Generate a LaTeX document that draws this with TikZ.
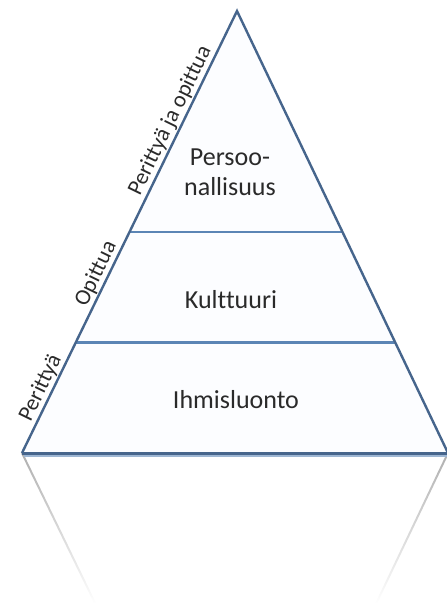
\documentclass[tikz,border=0pt]{standalone}
\usepackage{fontspec}
\setmainfont{Carlito}[Ligatures=NoCommon]
\usepackage{tikz}
\usetikzlibrary{calc,fadings}
\definecolor{pyramidEdge}{HTML}{46658C}
\definecolor{pyramidLayer}{HTML}{5B85B5}
\definecolor{pyramidFill}{HTML}{FCFDFF}
\definecolor{pyramidText}{HTML}{2A2A2A}
\tikzfading[name=fadedown, top color=transparent!10, bottom color=transparent!100]

\begin{document}
\begin{tikzpicture}[x=1pt, y=-1pt,
        layer/.style={font=\fontsize{26}{30}\selectfont, text=pyramidText, align=center},
        side/.style={font=\fontsize{22.5}{26}\selectfont, text=pyramidText, sloped, above, inner sep=2pt},
        edge/.style={draw=pyramidEdge, line width=2.4pt, line join=miter},
        divider/.style={draw=pyramidLayer, line width=2.2pt},
        mirrorline/.style={draw=gray!70, line width=2pt, path fading=fadedown}
    ]
        \useasboundingbox (0,0) rectangle (447,606);
        \coordinate (apex) at (237,11);
        \coordinate (bl) at (22,453);
        \coordinate (br) at (448,453);
        \coordinate (mirror) at (237,895);

        \fill[pyramidFill] (apex) -- (br) -- (bl) -- cycle;
        \draw[mirrorline] (bl) -- ($(bl)!0.34!(mirror)$);
        \draw[mirrorline] (br) -- ($(br)!0.34!(mirror)$);

        \draw[divider] ($(apex)!0.5!(bl)$) -- ($(apex)!0.5!(br)$);
        \draw[divider] ($(apex)!0.75!(bl)$) -- ($(apex)!0.75!(br)$);
        \draw[edge] (bl) -- (apex) -- (br);
        \draw[draw=pyramidLayer!60, line width=1.6pt] ($(bl)+(2,3)$) -- ($(br)+(0,3)$);
        \draw[edge, line width=3pt] (bl) -- (br);

        \node[layer] (persona) at (230,172) {Persoo-\\nallisuus};
        \node[layer] (culture) at (231,300) {Kulttuuri};
        \node[layer] (nature) at (236,400) {Ihmisluonto};

        \path (bl) -- (apex)
            node[side, pos=0.136] (inherited) {Perittyä}
            node[side, pos=0.394] (learned) {Opittua}
            node[side, pos=0.74] (both) {Perittyä ja opittua};
    \end{tikzpicture}
\end{document}
